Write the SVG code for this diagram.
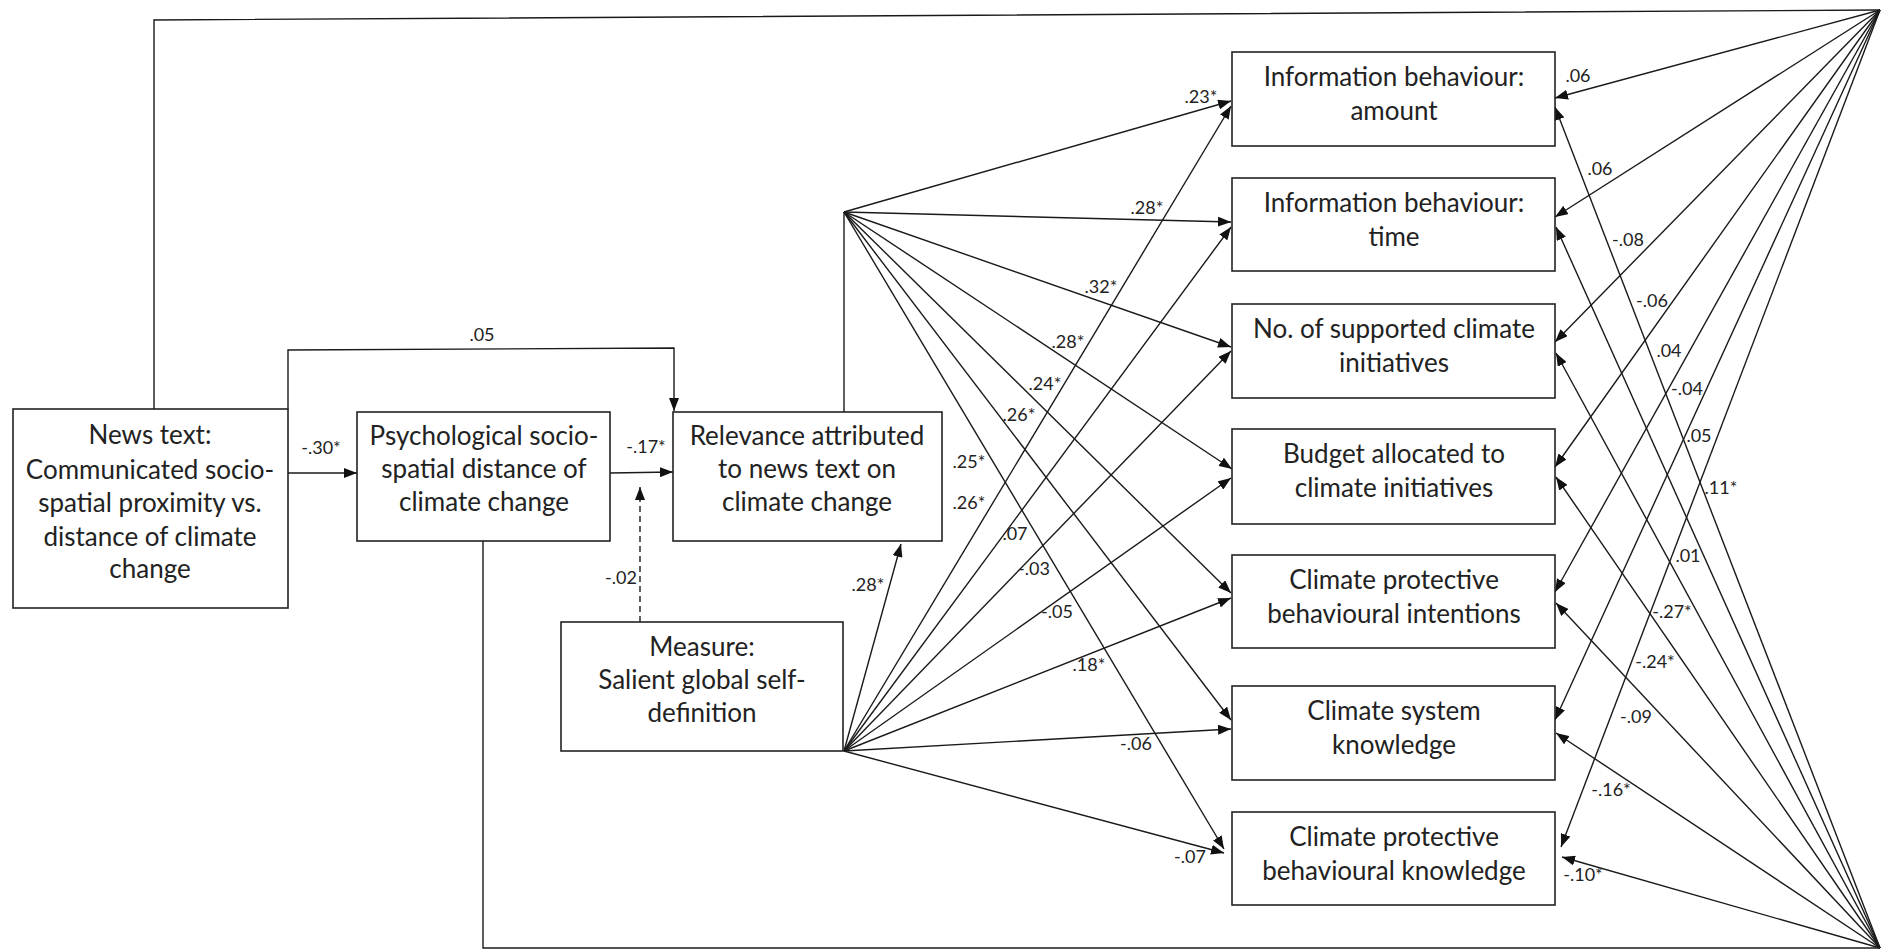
<svg xmlns="http://www.w3.org/2000/svg" width="1883" height="950" viewBox="0 0 1883 950">
<style>
.box{fill:#fff;stroke:#222;stroke-width:1.6}
.t{font-family:Lato,"Liberation Sans",sans-serif;font-size:26px;fill:#222;text-anchor:middle}
.l{font-family:Lato,"Liberation Sans",sans-serif;font-size:18px;fill:#222;text-anchor:middle}
.c{fill:none;stroke:#1a1a1a;stroke-width:1.4}
.a{marker-end:url(#ah)}
.d{stroke-dasharray:6 4}
</style>
<defs>
<marker id="ah" markerUnits="userSpaceOnUse" markerWidth="14" markerHeight="10" refX="13" refY="5" orient="auto">
<path d="M0,0 L13,5 L0,10 z" fill="#111"/>
</marker>
</defs>
<rect width="1883" height="950" fill="#fff"/>
<g id="connectors">
<path class="c" d="M154,409 V20 L1880,10"/>
<path class="c" d="M483,541 V948 L1880,948"/>
<path class="c a" d="M288,409 V350 L674,348 V411"/>
<path class="c a" d="M288,473 L357,473"/>
<path class="c a" d="M610,473 L673,472"/>
<path class="c a d" d="M640,622 L640,487"/>
<path class="c" d="M844,412 V212"/>
<path class="c a" d="M844,751 L901,544"/>
<g id="rel-fan">
<path class="c a" d="M844,212 L1231,101"/>
<path class="c a" d="M844,212 L1231,222"/>
<path class="c a" d="M844,212 L1231,347"/>
<path class="c a" d="M844,212 L1232,469"/>
<path class="c a" d="M844,212 L1231,593"/>
<path class="c a" d="M844,212 L1231,720"/>
<path class="c a" d="M844,212 L1224,849"/>
</g>
<g id="measure-fan">
<path class="c a" d="M844,751 L1231,106"/>
<path class="c a" d="M844,751 L1231,227"/>
<path class="c a" d="M844,751 L1231,351"/>
<path class="c a" d="M844,751 L1231,478"/>
<path class="c a" d="M844,751 L1231,598"/>
<path class="c a" d="M844,751 L1231,729"/>
<path class="c a" d="M844,751 L1224,853"/>
</g>
<g id="news-fan">
<path class="c a" d="M1880,10 L1555,98"/>
<path class="c a" d="M1880,10 L1555,217"/>
<path class="c a" d="M1880,10 L1555,342"/>
<path class="c a" d="M1880,10 L1555,467"/>
<path class="c a" d="M1880,10 L1555,592"/>
<path class="c a" d="M1880,10 L1555,720"/>
<path class="c a" d="M1880,10 L1561,847"/>
</g>
<g id="distance-fan">
<path class="c a" d="M1880,948 L1555,107"/>
<path class="c a" d="M1880,948 L1556,227"/>
<path class="c a" d="M1880,948 L1556,353"/>
<path class="c a" d="M1880,948 L1556,477"/>
<path class="c a" d="M1880,948 L1556,603"/>
<path class="c a" d="M1880,948 L1556,733"/>
<path class="c a" d="M1880,948 L1562,857"/>
</g>
</g>
<g id="labels">
<text class="l" x="482" y="341">.05</text>
<text class="l" x="321" y="454">-.30*</text>
<text class="l" x="646" y="453">-.17*</text>
<text class="l" x="621" y="584">-.02</text>
<text class="l" x="868" y="591">.28*</text>
<text class="l" x="1201" y="103">.23*</text>
<text class="l" x="1147" y="214">.28*</text>
<text class="l" x="1101" y="293">.32*</text>
<text class="l" x="1068" y="348">.28*</text>
<text class="l" x="1045" y="390">.24*</text>
<text class="l" x="1019" y="421">.26*</text>
<text class="l" x="969" y="468">.25*</text>
<text class="l" x="969" y="509">.26*</text>
<text class="l" x="1015" y="540">.07</text>
<text class="l" x="1034" y="575">-.03</text>
<text class="l" x="1057" y="618">-.05</text>
<text class="l" x="1089" y="671">.18*</text>
<text class="l" x="1136" y="750">-.06</text>
<text class="l" x="1190" y="863">-.07</text>
<text class="l" x="1578" y="82">.06</text>
<text class="l" x="1600" y="175">.06</text>
<text class="l" x="1628" y="246">-.08</text>
<text class="l" x="1652" y="307">-.06</text>
<text class="l" x="1669" y="357">.04</text>
<text class="l" x="1687" y="395">-.04</text>
<text class="l" x="1699" y="442">.05</text>
<text class="l" x="1721" y="494">.11*</text>
<text class="l" x="1688" y="562">.01</text>
<text class="l" x="1672" y="618">-.27*</text>
<text class="l" x="1655" y="668">-.24*</text>
<text class="l" x="1636" y="723">-.09</text>
<text class="l" x="1611" y="796">-.16*</text>
<text class="l" x="1583" y="881">-.10*</text>
</g>
<g id="news">
<rect class="box" x="13" y="409" width="275" height="199"/>
<text class="t" x="150" y="444">News text:</text>
<text class="t" x="150" y="479">Communicated socio-</text>
<text class="t" x="150" y="512">spatial proximity vs.</text>
<text class="t" x="150" y="546">distance of climate</text>
<text class="t" x="150" y="578">change</text>
</g>
<g id="psych">
<rect class="box" x="357" y="412" width="253" height="129"/>
<text class="t" x="484" y="445">Psychological socio-</text>
<text class="t" x="484" y="478">spatial distance of</text>
<text class="t" x="484" y="511">climate change</text>
</g>
<g id="relevance">
<rect class="box" x="673" y="412" width="269" height="129"/>
<text class="t" x="807" y="445">Relevance attributed</text>
<text class="t" x="807" y="478">to news text on</text>
<text class="t" x="807" y="511">climate change</text>
</g>
<g id="measure">
<rect class="box" x="561" y="622" width="282" height="129"/>
<text class="t" x="702" y="656">Measure:</text>
<text class="t" x="702" y="689">Salient global self-</text>
<text class="t" x="702" y="722">definition</text>
</g>
<g id="amount">
<rect class="box" x="1232" y="52" width="323" height="94"/>
<text class="t" x="1394" y="86">Information behaviour:</text>
<text class="t" x="1394" y="120">amount</text>
</g>
<g id="time">
<rect class="box" x="1232" y="178" width="323" height="93"/>
<text class="t" x="1394" y="212">Information behaviour:</text>
<text class="t" x="1394" y="246">time</text>
</g>
<g id="initiatives">
<rect class="box" x="1232" y="304" width="323" height="94"/>
<text class="t" x="1394" y="338">No. of supported climate</text>
<text class="t" x="1394" y="372">initiatives</text>
</g>
<g id="budget">
<rect class="box" x="1232" y="429" width="323" height="95"/>
<text class="t" x="1394" y="463">Budget allocated to</text>
<text class="t" x="1394" y="497">climate initiatives</text>
</g>
<g id="intentions">
<rect class="box" x="1232" y="555" width="323" height="93"/>
<text class="t" x="1394" y="589">Climate protective</text>
<text class="t" x="1394" y="623">behavioural intentions</text>
</g>
<g id="system">
<rect class="box" x="1232" y="686" width="323" height="94"/>
<text class="t" x="1394" y="720">Climate system</text>
<text class="t" x="1394" y="754">knowledge</text>
</g>
<g id="protknow">
<rect class="box" x="1232" y="812" width="323" height="93"/>
<text class="t" x="1394" y="846">Climate protective</text>
<text class="t" x="1394" y="880">behavioural knowledge</text>
</g>
</svg>
